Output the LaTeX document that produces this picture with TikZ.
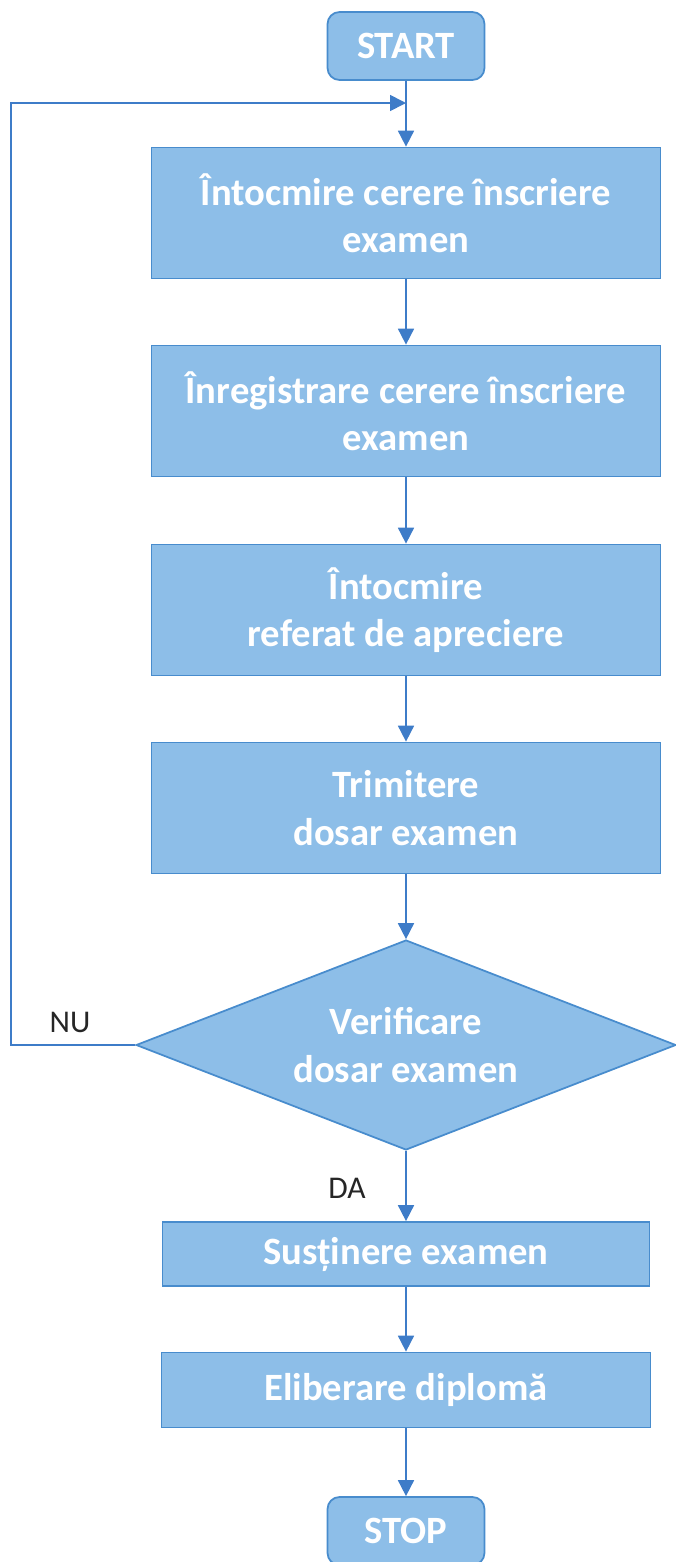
\documentclass[tikz,border=0pt]{standalone}
\usepackage{fontspec}
\setmainfont{Carlito}
\usetikzlibrary{shapes.geometric,arrows.meta}
\definecolor{boxfill}{RGB}{141,190,232}
\definecolor{boxline}{RGB}{72,140,205}
\definecolor{flow}{RGB}{62,124,200}
\begin{document}
\begin{tikzpicture}[x=0.02cm,y=-0.02cm,
		stepbox/.style={draw=boxline, fill=boxfill, line width=1pt, text=white, font=\fontsize{22}{27}\selectfont\bfseries, align=center, minimum width=10.18cm, minimum height=2.62cm, inner sep=0pt},
		termbox/.style={stepbox, rounded corners=0.24cm, minimum width=3.14cm, minimum height=1.36cm},
		decbox/.style={stepbox, diamond, aspect=2.6, minimum width=10.8cm, minimum height=4.2cm},
		flowline/.style={draw=flow, line width=1pt, -{Triangle[width=0.32cm,length=0.32cm]}},
		answer/.style={font=\fontsize{18}{22}\selectfont, text=black!85}]
		\useasboundingbox (0,0) rectangle (676,1562);
		
		\node[termbox] (start) at (406,46) {START};
		\node[stepbox] (cerere) at (406,213) {Întocmire cerere înscriere\\examen};
		\node[stepbox] (inreg) at (406,411) {Înregistrare cerere înscriere\\examen};
		\node[stepbox] (referat) at (406,610) {Întocmire\\referat de apreciere};
		\node[stepbox] (trimit) at (406,808) {Trimitere\\dosar examen};
		\node[decbox] (verif) at (406,1045) {Verificare\\dosar examen};
		\node[stepbox, minimum width=9.74cm, minimum height=1.28cm] (sustin) at (406,1254) {Susținere examen};
		\node[stepbox, minimum width=9.78cm, minimum height=1.5cm] (dipl) at (406,1390) {Eliberare diplomă};
		\node[termbox] (stop) at (406,1531) {STOP};
		\coordinate (intrare) at (406,103);
		
		\draw[flowline] (start) -- (cerere);
		\draw[flowline] (cerere) -- (inreg);
		\draw[flowline] (inreg) -- (referat);
		\draw[flowline] (referat) -- (trimit);
		\draw[flowline] (trimit) -- (verif);
		\draw[flowline] (verif) -- (sustin);
		\draw[flowline] (sustin) -- (dipl);
		\draw[flowline] (dipl) -- (stop);
		\draw[flowline] (verif.west) -- ++(-124,0) |- (intrare);
		
		\node[answer] (nu) at (70,1022) {NU};
		\node[answer] (da) at (347,1188) {DA};
	\end{tikzpicture}
\end{document}
